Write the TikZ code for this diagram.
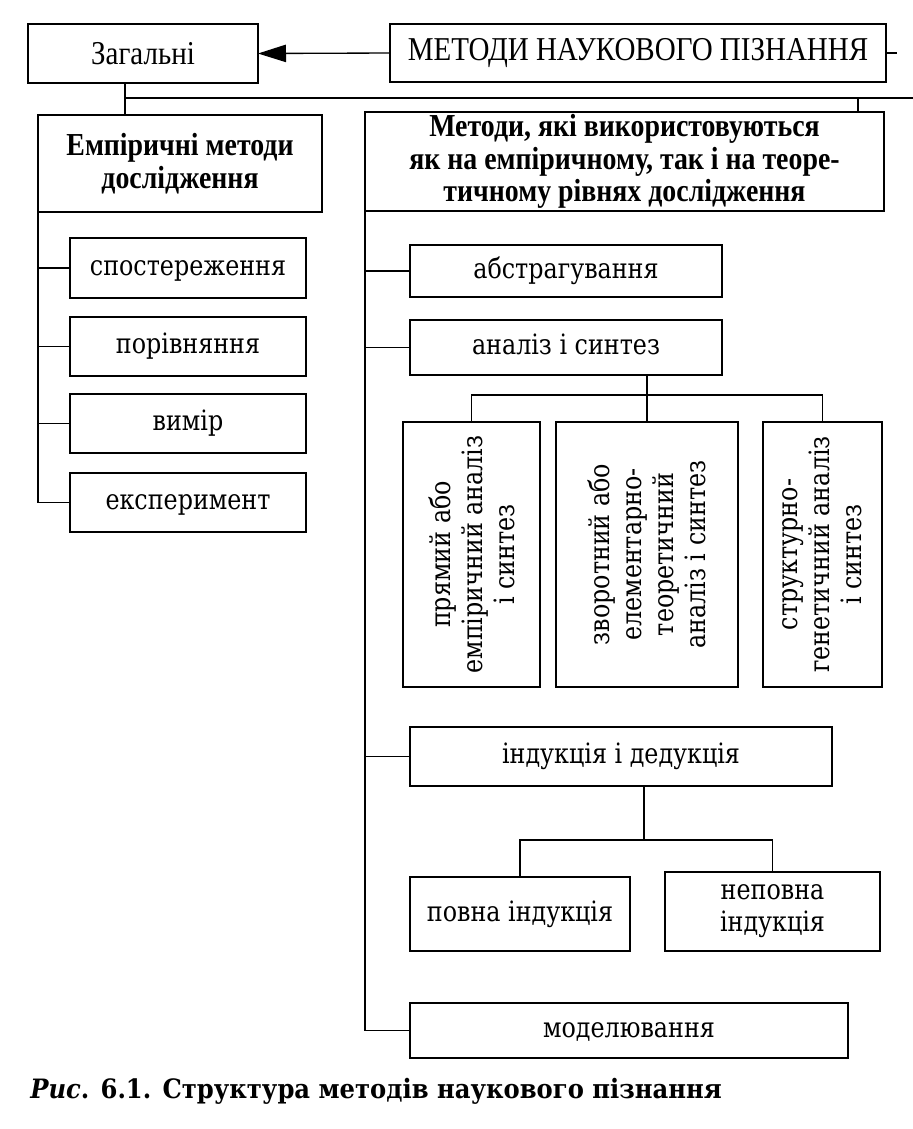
\documentclass[tikz,border=0pt]{standalone}
\usepackage{fontspec}
\setmainfont{DejaVu Serif}
\newfontfamily\topf[FakeStretch=0.87]{Liberation Serif}
\newfontfamily\regf[FakeStretch=0.85]{DejaVu Serif}
\newfontfamily\capf[FakeStretch=0.91]{DejaVu Serif}
\usetikzlibrary{arrows.meta,calc}
\newcommand\mkbox[7]{\node[#6, minimum width={(#4-#2)*0.75pt}, minimum height={(#5-#3)*0.75pt}] (#1) at ({(#2+#4)/2},{(#3+#5)/2}) {#7};}
\newcommand\mkrbox[7]{\node[#6, rotate=90, minimum height={(#4-#2)*0.75pt}, minimum width={(#5-#3)*0.75pt}] (#1) at ({(#2+#4)/2},{(#3+#5)/2}) {#7};}
\begin{document}
\begin{tikzpicture}[x=0.75pt,y=-0.75pt,
  box/.style={draw, line width=1.1pt, inner sep=0pt, outer sep=0pt, align=center},
  reg/.style={box, font=\regf\fontsize{21}{24}\selectfont},
  one/.style={reg, text height=15.5pt, text depth=4.5pt},
  top/.style={box, font=\topf\fontsize{25}{28}\selectfont},
  head/.style={box, font=\topf\bfseries\fontsize{24}{24.5}\selectfont},
  conn/.style={line width=1pt}]
\useasboundingbox[fill=white] (0,0) rectangle (913,1129);
% top row
\mkbox{zag}{28}{24}{258}{83}{top}{Загальні}
\mkbox{mnp}{390}{24}{886}{82}{top}{МЕТОДИ НАУКОВОГО ПІЗНАННЯ}
% second row
\mkbox{emp}{38}{115}{322}{212}{head}{Емпіричні методи\\дослідження}
\mkbox{big}{365}{112}{884}{211}{head}{Методи, які використовуються\\як на емпіричному, так і на теоре-\\тичному рівнях дослідження}
% left column
\mkbox{spo}{70}{238}{306}{298}{one}{спостереження}
\mkbox{por}{70}{317}{306}{376}{one}{порівняння}
\mkbox{vym}{70}{394}{306}{453}{one}{вимір}
\mkbox{eks}{70}{473}{306}{532}{one}{експеримент}
% right column
\mkbox{abs}{410}{245}{722}{297}{one}{абстрагування}
\mkbox{an}{410}{320}{722}{375}{one}{аналіз і синтез}
\mkrbox{b1}{403}{422}{540}{687}{reg}{прямий або\\емпіричний аналіз\\і синтез}
\mkrbox{b2}{556}{422}{738}{687}{reg}{зворотний або\\елементарно-\\теоретичний\\аналіз і синтез}
\mkrbox{b3}{763}{422}{882}{687}{reg}{структурно-\\генетичний аналіз\\і синтез}
\mkbox{ind}{410}{727}{832}{786}{one}{індукція і дедукція}
\mkbox{p1}{410}{877}{630}{951}{one}{повна індукція}
\mkbox{p2}{665}{872}{880}{951}{reg}{неповна\\індукція}
\mkbox{mod}{410}{1003}{848}{1058}{one}{моделювання}
% caption
\node[anchor=base west, inner sep=0pt, font=\capf\bfseries\fontsize{20}{24}\selectfont] (cap) at (30,1098) {\textit{Рис}. 6.1. Структура методів наукового пізнання};
% connectors
\draw[conn, -{Triangle[length=21pt,width=13pt]}] (mnp.west) -- (zag.east);
\coordinate (mnpR) at (897,53);
\draw[conn] (mnp.east) -- (mnpR);
\coordinate (zx) at (125,98);
\coordinate (hr) at (913,98);
\coordinate (tx) at (858,98);
\draw[conn] (zag.south -| zx) -- (emp.north -| zx);
\draw[conn] (zx) -- (hr);
\draw[conn] (tx) -- (tx |- big.north);
% left tree
\draw[conn] (emp.south west) |- (eks.west);
\foreach \n in {spo,por,vym}{\draw[conn] (emp.south west |- \n.west) -- (\n.west);}
% right tree
\draw[conn] (big.south west) |- (mod.west);
\foreach \n in {abs,an,ind}{\draw[conn] (big.south west |- \n.west) -- (\n.west);}
\draw[conn] (b2.east) -- (b2.east |- an.south);
\draw[conn] (b1.east) -- ++(0,-27) -| (b3.east);
\draw[conn] ($(ind.south)+(23,0)$) -- ++(0,54) coordinate (ib);
\draw[conn] (p1.north) |- (ib) -| (p2.north);
\end{tikzpicture}
\end{document}
